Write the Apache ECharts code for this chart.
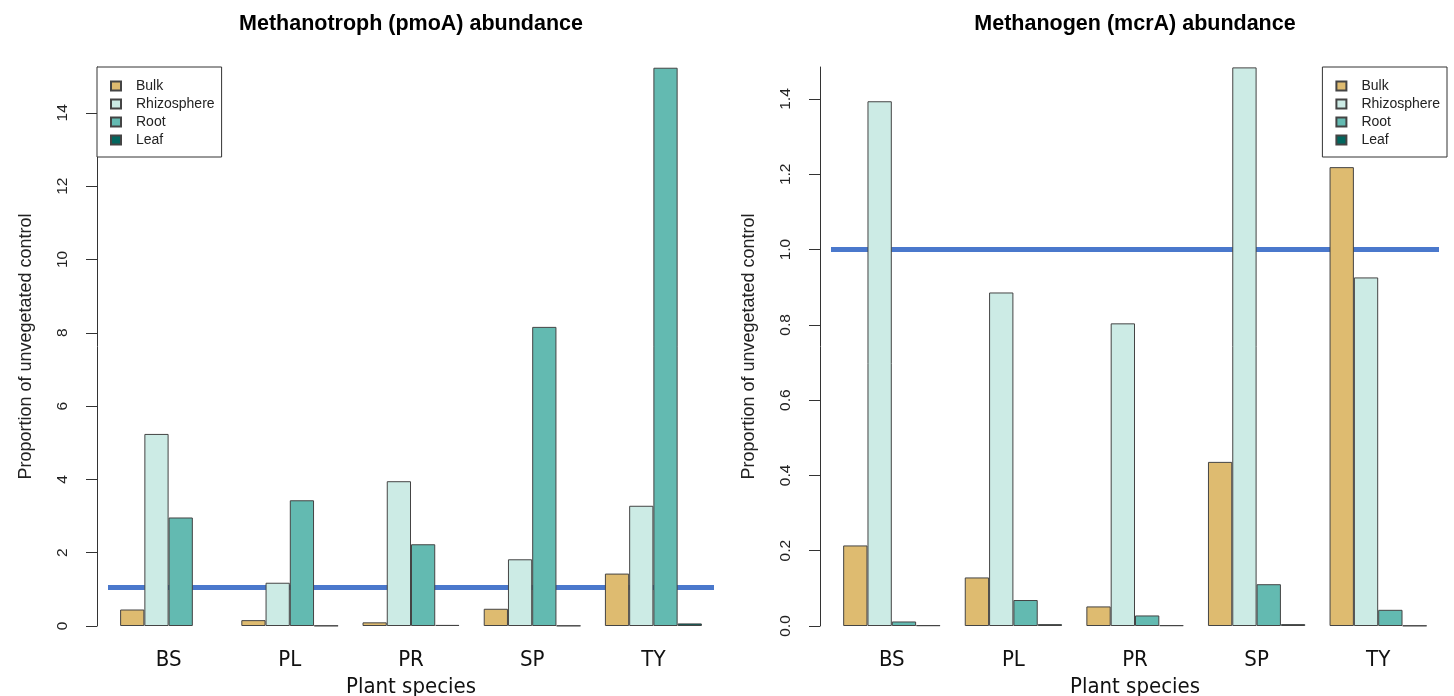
<!DOCTYPE html>
<html>
<head>
<meta charset="utf-8">
<script src="https://cdn.jsdelivr.net/npm/echarts@6/dist/echarts.min.js"></script>
<style>
  html, body { margin: 0; padding: 0; background: #fff; }
  #chart { width: 1454px; height: 696px; }
</style>
</head>
<body>
<div id="chart"></div>
<script>
// categories
const species = ['BS', 'PL', 'PR', 'SP', 'TY'];
const compartments = ['Bulk', 'Rhizosphere', 'Root', 'Leaf'];

// methanotroph (pmoA) abundance, proportion of unvegetated control
const pmoaBulk = [0.45, 0.16, 0.10, 0.47, 1.43];
const pmoaRhizo = [5.24, 1.18, 3.95, 1.82, 3.28];
const pmoaRoot = [2.96, 3.43, 2.23, 8.16, 15.23];
const pmoaLeaf = [null, 0.01, 0.03, 0.01, 0.07];

// methanogen (mcrA) abundance
const mcraBulk = [0.214, 0.129, 0.052, 0.436, 1.219];
const mcraRhizo = [1.394, 0.886, 0.804, 1.484, 0.926];
const mcraRoot = [0.012, 0.069, 0.028, 0.111, 0.043];
const mcraLeaf = [0.002, 0.005, 0.002, 0.005, 0.001];

// tick labels
const pmoaTicks = [0, 2, 4, 6, 8, 10, 12, 14];
const mcraTicks = [0, 0.2, 0.4, 0.6, 0.8, 1.0, 1.2, 1.4];

// reference lines
const pmoaRef = 1.05;
const mcraRef = 1.0;

const colors = ['#DEBB70', '#CCEBE5', '#63BAB1', '#01665E'];
const font = "'Liberation Sans', Arial, sans-serif";
const narrow = "'Liberation Sans Narrow', 'DejaVu Sans Condensed', 'Liberation Sans', sans-serif";

const chart = echarts.init(document.getElementById('chart'));

function barSeries(name, data, idx, colorIdx) {
  return {
    name: name,
    type: 'bar',
    xAxisIndex: idx,
    yAxisIndex: idx,
    data: data,
    barWidth: '20%',
    barGap: '0%',
    z: 2,
    itemStyle: {
      color: colors[colorIdx],
      borderColor: '#444',
      borderWidth: 1
    },
    emphasis: { disabled: true }
  };
}

function refLine(idx, value) {
  return {
    type: 'line',
    xAxisIndex: idx,
    yAxisIndex: idx,
    data: [],
    z: 1,
    markLine: {
      silent: true,
      symbol: 'none',
      z: 1,
      label: { show: false },
      lineStyle: { color: '#4a78cc', width: 5, type: 'solid' },
      data: [{ yAxis: value }]
    }
  };
}

function yAxisFor(idx, max, ticks, fmt) {
  return {
    type: 'value',
    gridIndex: idx,
    min: 0,
    max: max,
    offset: 11,
    name: 'Proportion of unvegetated control',
    nameLocation: 'middle',
    nameGap: 62,
    nameTextStyle: { fontSize: 18, color: '#222', fontFamily: font },
    axisLine: { show: true, lineStyle: { color: '#333', width: 1 } },
    axisTick: { show: true, length: 11, customValues: ticks, lineStyle: { color: '#333' } },
    axisLabel: {
      rotate: 90,
      margin: 26,
      fontSize: 15.5,
      color: '#222',
      fontFamily: font,
      customValues: ticks,
      formatter: fmt
    },
    splitLine: { show: false }
  };
}

function xAxisFor(idx) {
  return {
    type: 'category',
    gridIndex: idx,
    data: species,
    name: 'Plant species',
    nameLocation: 'middle',
    nameGap: 50,
    nameTextStyle: { fontSize: 22, color: '#111', fontFamily: narrow },
    axisLine: { show: false },
    axisTick: { show: false },
    axisLabel: { fontSize: 22, margin: 23, color: '#111', fontFamily: narrow }
  };
}

function legendFor(pos) {
  return Object.assign({
    top: 67,
    orient: 'vertical',
    data: compartments,
    icon: 'rect',
    itemWidth: 10,
    itemHeight: 9,
    itemGap: 4,
    backgroundColor: '#fff',
    borderColor: '#333',
    borderWidth: 1,
    borderRadius: 0,
    padding: [12, 7, 10, 13],
    selectedMode: false,
    textStyle: { fontSize: 14, lineHeight: 14, color: '#222', fontFamily: font, padding: [0, 0, 0, 10] }
  }, pos);
}

const option = {
  backgroundColor: '#fff',
  animation: false,
  title: [
    {
      text: 'Methanotroph (pmoA) abundance',
      left: 411, top: 13, textAlign: 'center', padding: 0,
      textStyle: { fontSize: 21.5, fontWeight: 'bold', color: '#000', fontFamily: font }
    },
    {
      text: 'Methanogen (mcrA) abundance',
      left: 1135, top: 13, textAlign: 'center', padding: 0,
      textStyle: { fontSize: 21.5, fontWeight: 'bold', color: '#000', fontFamily: font }
    }
  ],
  legend: [legendFor({ left: 97 }), legendFor({ right: 7 })],
  grid: [
    { left: 108, width: 606, top: 67, height: 559, outerBoundsMode: 'none', containLabel: false },
    { left: 831, width: 608, top: 67, height: 559, outerBoundsMode: 'none', containLabel: false }
  ],
  xAxis: [xAxisFor(0), xAxisFor(1)],
  yAxis: [
    yAxisFor(0, 15.25, pmoaTicks, v => String(v)),
    yAxisFor(1, 1.485, mcraTicks, v => v.toFixed(1))
  ],
  series: [
    refLine(0, pmoaRef),
    barSeries('Bulk', pmoaBulk, 0, 0),
    barSeries('Rhizosphere', pmoaRhizo, 0, 1),
    barSeries('Root', pmoaRoot, 0, 2),
    barSeries('Leaf', pmoaLeaf, 0, 3),
    refLine(1, mcraRef),
    barSeries('Bulk', mcraBulk, 1, 0),
    barSeries('Rhizosphere', mcraRhizo, 1, 1),
    barSeries('Root', mcraRoot, 1, 2),
    barSeries('Leaf', mcraLeaf, 1, 3)
  ]
};

chart.setOption(option);
</script>
</body>
</html>
